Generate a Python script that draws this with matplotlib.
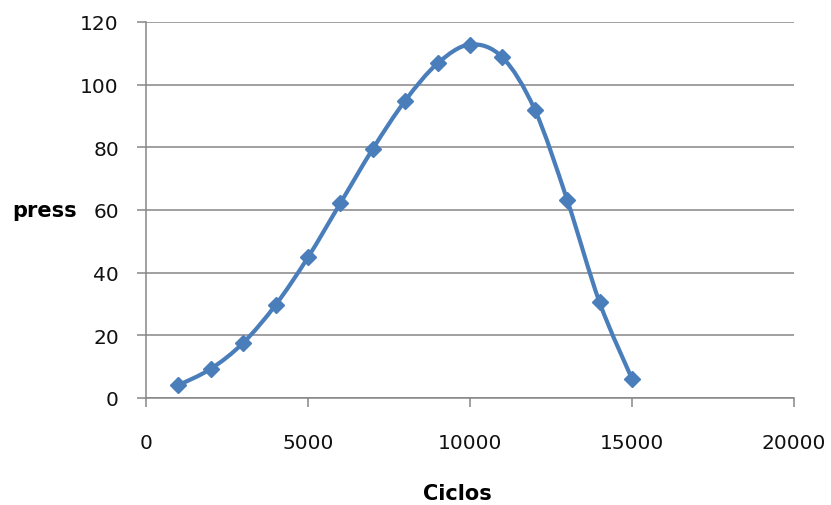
import numpy as np
import matplotlib
matplotlib.use('Agg')
import matplotlib.pyplot as plt
from matplotlib.path import Path
from matplotlib.patches import PathPatch

# data
ciclos = [1000, 2000, 3000, 4000, 5000, 6000, 7000, 8000,
          9000, 10000, 11000, 12000, 13000, 14000, 15000]
press = [4.1, 9.3, 17.6, 29.7, 44.9, 62.2, 79.5, 94.9,
         106.8, 112.8, 108.7, 92.0, 63.2, 30.5, 6.1]
x_ticks = [0, 5000, 10000, 15000, 20000]
y_ticks = [0, 20, 40, 60, 80, 100, 120]

blue = '#4a7ebb'
grey = '#868686'


def smooth_path(xs, ys):
    """Bezier path through the points, like the smoothed line of a spreadsheet."""
    pts = np.column_stack([xs, ys]).astype(float)
    n = len(pts)
    verts = [pts[0]]
    codes = [Path.MOVETO]
    for i in range(n - 1):
        p0 = pts[i - 1] if i > 0 else pts[i]
        p1 = pts[i]
        p2 = pts[i + 1]
        p3 = pts[i + 2] if i + 2 < n else pts[i + 1]
        c1 = p1 + (p2 - p0) / 6.0
        c2 = p2 - (p3 - p1) / 6.0
        verts += [c1, c2, p2]
        codes += [Path.CURVE4] * 3
    return Path(verts, codes)


plt.rcParams['font.family'] = ['DejaVu Sans']

fig = plt.figure(figsize=(8.31, 5.06), dpi=100)
ax = fig.add_axes([146 / 831, 1 - 399 / 506, 648 / 831, 376 / 506])

ax.set_xlim(0, 20000)
ax.set_ylim(0, 120)
ax.set_xticks(x_ticks)
ax.set_yticks(y_ticks)
ax.set_xticklabels([str(t) for t in x_ticks])
ax.set_yticklabels([str(t) for t in y_ticks])

ax.yaxis.grid(True, color=grey, linewidth=1.1)
ax.set_axisbelow(True)
for side in ['top', 'right']:
    ax.spines[side].set_visible(False)
for side in ['left', 'bottom']:
    ax.spines[side].set_color(grey)
    ax.spines[side].set_linewidth(1.1)

ax.tick_params(axis='both', direction='out', color=grey, width=1.1,
               length=6.5, labelsize=14.5, labelcolor='#111111')
ax.tick_params(axis='y', pad=13)
ax.tick_params(axis='x', pad=19)

patch = PathPatch(smooth_path(ciclos, press), facecolor='none',
                  edgecolor=blue, linewidth=3.0, capstyle='round',
                  joinstyle='round', zorder=3)
ax.add_patch(patch)
ax.plot(ciclos, press, linestyle='none', marker='D', markersize=8,
        color=blue, zorder=4, clip_on=False)

ax.set_xlabel('Ciclos', fontsize=15, fontweight='bold')
ax.xaxis.set_label_coords(0.48, -0.253)
ax.xaxis.label.set_va('center')
ax.set_ylabel('press', fontsize=15, fontweight='bold', rotation=0,
              ha='center', va='center')
ax.yaxis.set_label_coords(-0.156, 0.5)

fig.savefig('out.png', dpi=100)
